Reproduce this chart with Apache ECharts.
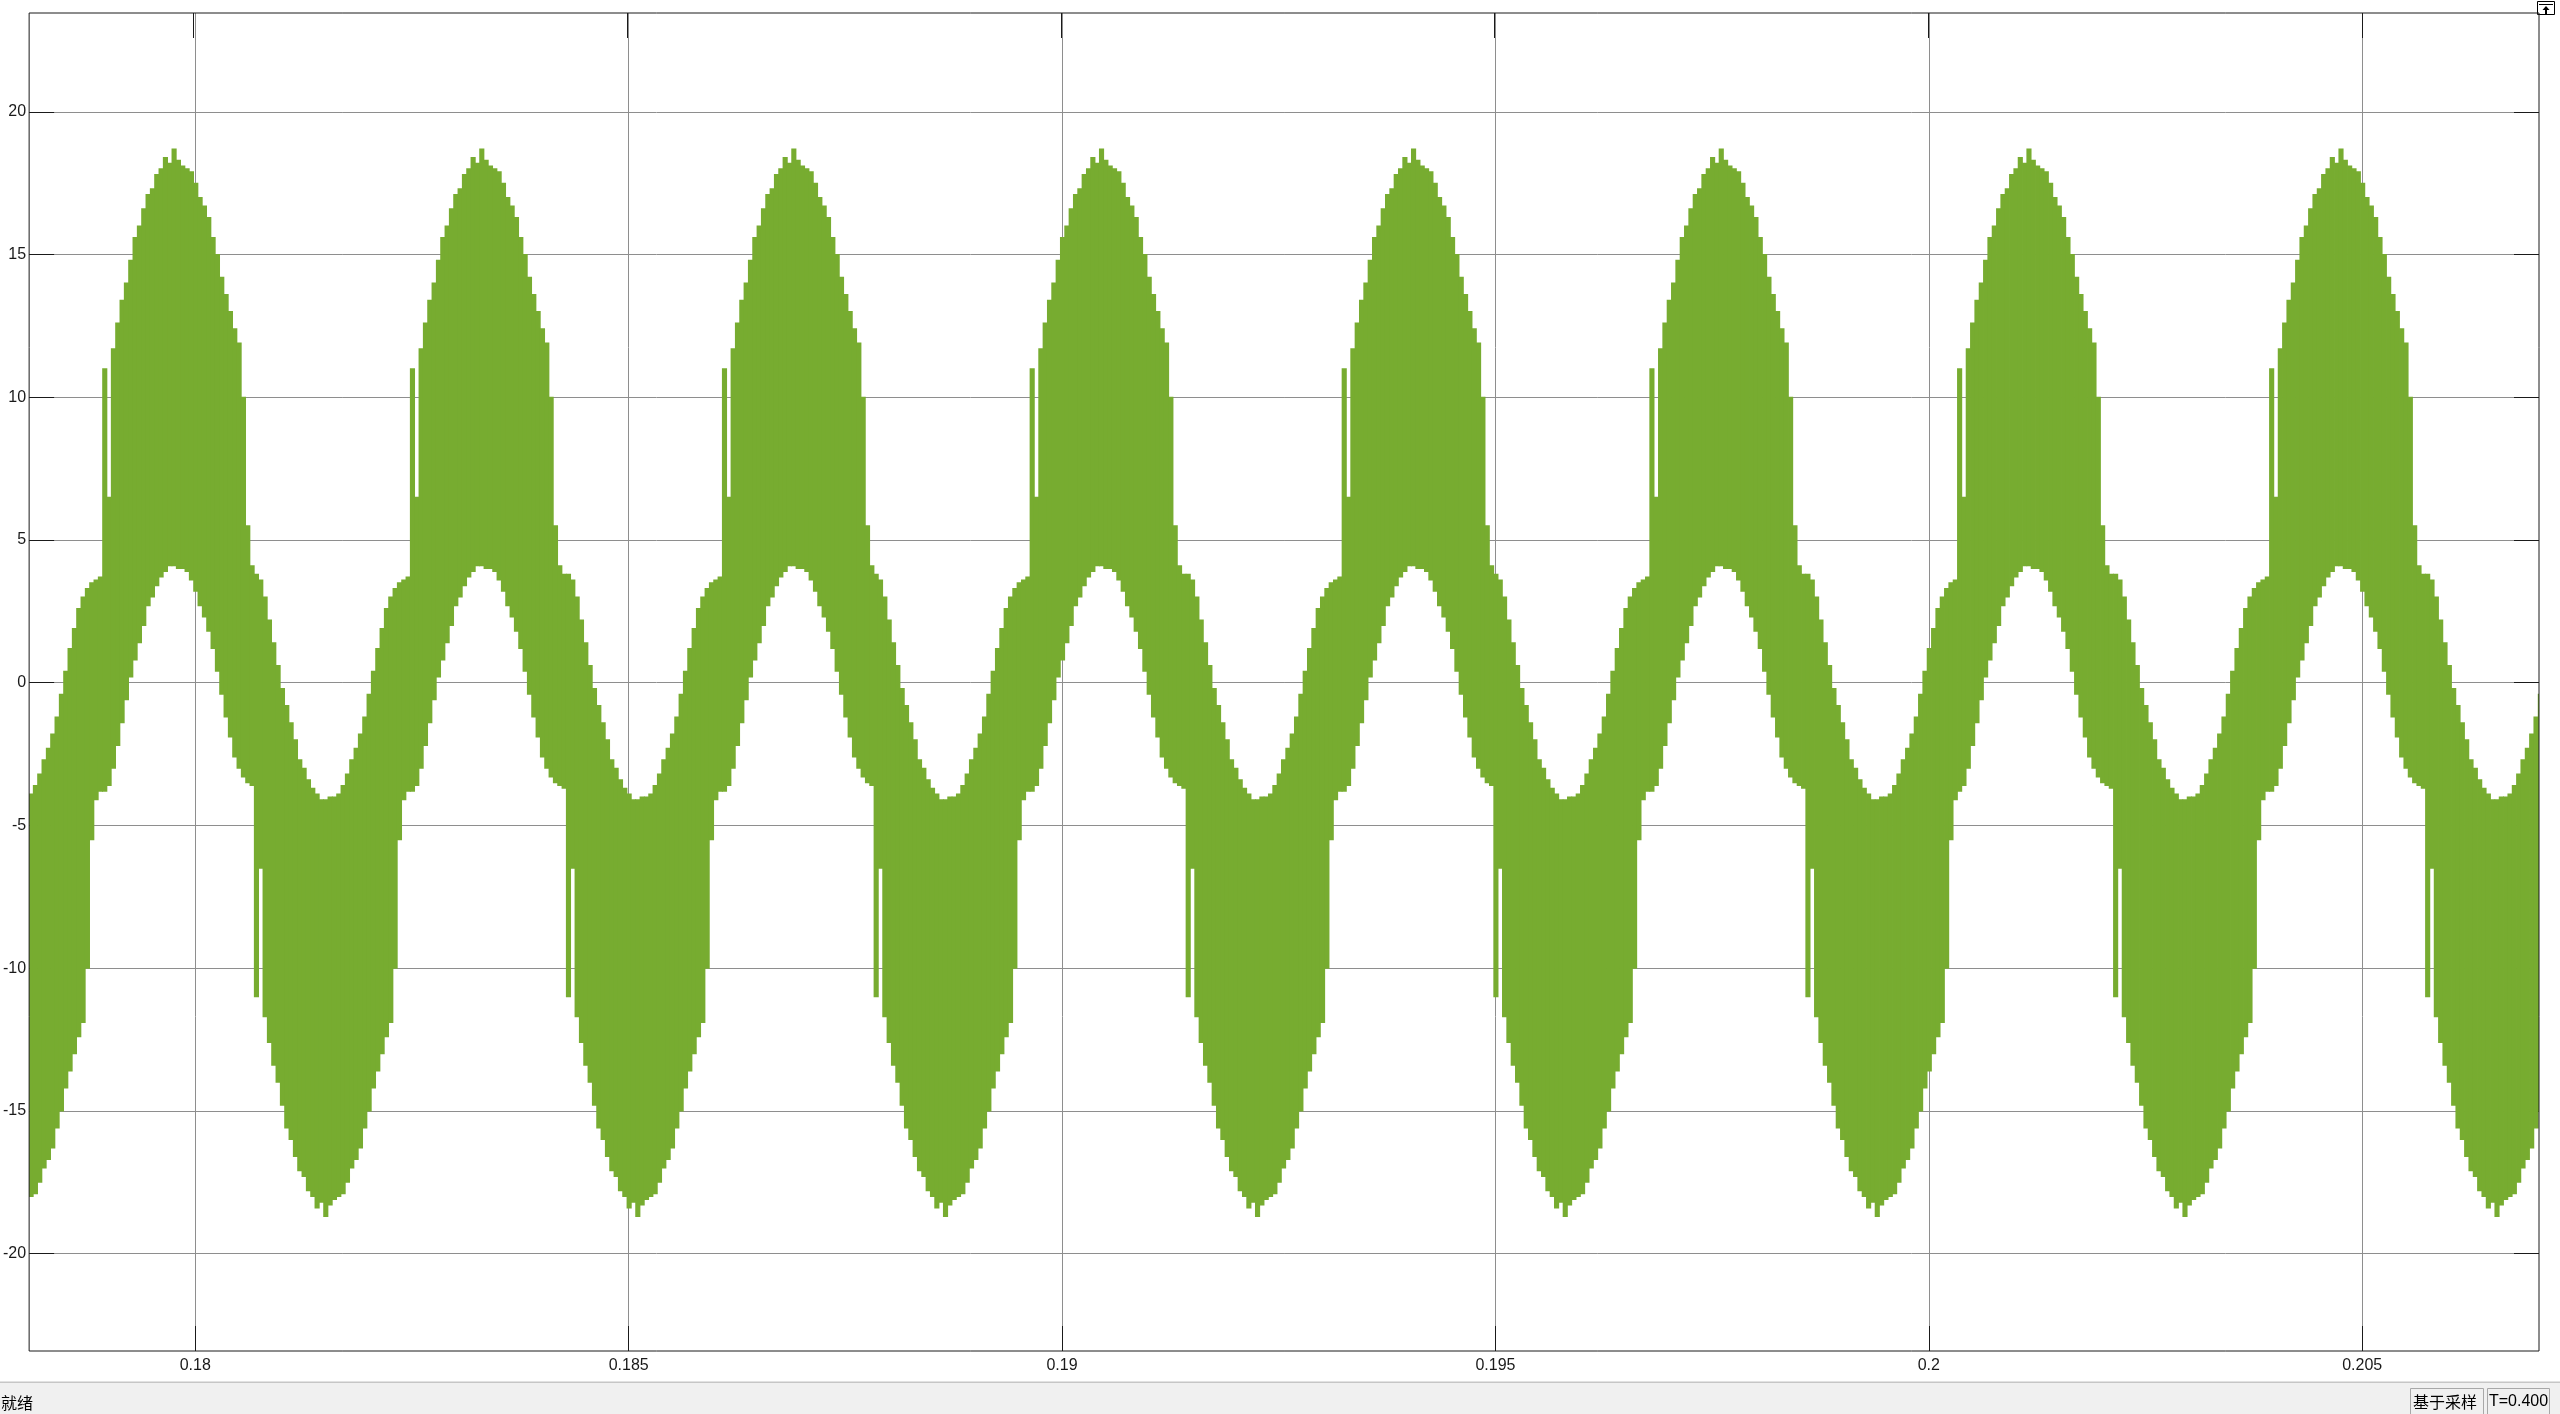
<!DOCTYPE html>
<html>
<head>
<meta charset="utf-8">
<script src="https://cdn.jsdelivr.net/npm/echarts@6/dist/echarts.min.js"></script>
<style>
  html, body { margin: 0; padding: 0; background: #ffffff; }
  #chart { width: 2560px; height: 1414px; }
</style>
</head>
<body>
<div id="chart"></div>
<script>
// ---- Axis data ----
const xTickValues = [0.18, 0.185, 0.19, 0.195, 0.2, 0.205];
const yTickValues = [-20, -15, -10, -5, 0, 5, 10, 15, 20];
const xRange = [0.178083, 0.20704];
const yRange = [-23.41, 23.46];

// ---- Sampling grid of the envelope readings (one value every 50 us) ----
const sampleStart = 0.178076;
const samplePeriod = 0.00005;

// ---- Upper envelope of the switching current, one value per sample ----
const upperEnvelope = [
  -3.9,-3.6,-3.2,-2.7,-2.3,-1.8,-1.2,-0.4,0.4,1.2,1.9,2.6,3.0,3.3,3.5,3.6,3.7,
  11.0,6.5,11.7,12.6,13.4,14.0,14.8,15.6,16.0,16.6,17.1,17.3,17.8,18.0,18.4,18.2,18.7,18.3,18.1,18.0,17.9,17.5,17.0,16.7,16.3,15.6,15.0,14.2,13.6,13.0,12.4,11.9,10.0,5.5,4.1,
  3.8,3.6,3.0,2.2,1.4,0.6,-0.2,-0.8,-1.4,-2.0,-2.7,-3.0,-3.4,-3.7,-3.9,-4.1,-4.1,-4.0,-4.0,-3.9,-3.6,-3.2,-2.7,-2.3,-1.8,-1.2,-0.4,0.4,1.2,1.9,2.6,3.0,3.3,3.5,3.6,3.7,
  11.0,6.5,11.7,12.6,13.4,14.0,14.8,15.6,16.0,16.6,17.1,17.3,17.8,18.0,18.4,18.2,18.7,18.3,18.1,18.0,17.9,17.5,17.0,16.7,16.3,15.6,15.0,14.2,13.6,13.0,12.4,11.9,10.0,5.5,4.1,3.8,
  3.8,3.6,3.0,2.2,1.4,0.6,-0.2,-0.8,-1.4,-2.0,-2.7,-3.0,-3.4,-3.7,-3.9,-4.1,-4.1,-4.0,-4.0,-3.9,-3.6,-3.2,-2.7,-2.3,-1.8,-1.2,-0.4,0.4,1.2,1.9,2.6,3.0,3.3,3.5,3.6,3.7,
  11.0,6.5,11.7,12.6,13.4,14.0,14.8,15.6,16.0,16.6,17.1,17.3,17.8,18.0,18.4,18.2,18.7,18.3,18.1,18.0,17.9,17.5,17.0,16.7,16.3,15.6,15.0,14.2,13.6,13.0,12.4,11.9,10.0,5.5,4.1,
  3.8,3.6,3.0,2.2,1.4,0.6,-0.2,-0.8,-1.4,-2.0,-2.7,-3.0,-3.4,-3.7,-3.9,-4.1,-4.1,-4.0,-4.0,-3.9,-3.6,-3.2,-2.7,-2.3,-1.8,-1.2,-0.4,0.4,1.2,1.9,2.6,3.0,3.3,3.5,3.6,3.7,
  11.0,6.5,11.7,12.6,13.4,14.0,14.8,15.6,16.0,16.6,17.1,17.3,17.8,18.0,18.4,18.2,18.7,18.3,18.1,18.0,17.9,17.5,17.0,16.7,16.3,15.6,15.0,14.2,13.6,13.0,12.4,11.9,10.0,5.5,4.1,3.8,
  3.8,3.6,3.0,2.2,1.4,0.6,-0.2,-0.8,-1.4,-2.0,-2.7,-3.0,-3.4,-3.7,-3.9,-4.1,-4.1,-4.0,-4.0,-3.9,-3.6,-3.2,-2.7,-2.3,-1.8,-1.2,-0.4,0.4,1.2,1.9,2.6,3.0,3.3,3.5,3.6,3.7,
  11.0,6.5,11.7,12.6,13.4,14.0,14.8,15.6,16.0,16.6,17.1,17.3,17.8,18.0,18.4,18.2,18.7,18.3,18.1,18.0,17.9,17.5,17.0,16.7,16.3,15.6,15.0,14.2,13.6,13.0,12.4,11.9,10.0,5.5,4.1,
  3.8,3.6,3.0,2.2,1.4,0.6,-0.2,-0.8,-1.4,-2.0,-2.7,-3.0,-3.4,-3.7,-3.9,-4.1,-4.1,-4.0,-4.0,-3.9,-3.6,-3.2,-2.7,-2.3,-1.8,-1.2,-0.4,0.4,1.2,1.9,2.6,3.0,3.3,3.5,3.6,3.7,
  11.0,6.5,11.7,12.6,13.4,14.0,14.8,15.6,16.0,16.6,17.1,17.3,17.8,18.0,18.4,18.2,18.7,18.3,18.1,18.0,17.9,17.5,17.0,16.7,16.3,15.6,15.0,14.2,13.6,13.0,12.4,11.9,10.0,5.5,4.1,3.8,
  3.8,3.6,3.0,2.2,1.4,0.6,-0.2,-0.8,-1.4,-2.0,-2.7,-3.0,-3.4,-3.7,-3.9,-4.1,-4.1,-4.0,-4.0,-3.9,-3.6,-3.2,-2.7,-2.3,-1.8,-1.2,-0.4,0.4,1.2,1.9,2.6,3.0,3.3,3.5,3.6,
  11.0,6.5,11.7,12.6,13.4,14.0,14.8,15.6,16.0,16.6,17.1,17.3,17.8,18.0,18.4,18.2,18.7,18.3,18.1,18.0,17.9,17.5,17.0,16.7,16.3,15.6,15.0,14.2,13.6,13.0,12.4,11.9,10.0,5.5,4.1,3.8,
  3.8,3.6,3.0,2.2,1.4,0.6,-0.2,-0.8,-1.4,-2.0,-2.7,-3.0,-3.4,-3.7,-3.9,-4.1,-4.1,-4.0,-4.0,-3.9,-3.6,-3.2,-2.7,-2.3,-1.8,-1.2,-0.4,0.4,1.2,1.9,2.6,3.0,3.3,3.5,3.6,3.7,
  11.0,6.5,11.7,12.6,13.4,14.0,14.8,15.6,16.0,16.6,17.1,17.3,17.8,18.0,18.4,18.2,18.7,18.3,18.1,18.0,17.9,17.5,17.0,16.7,16.3,15.6,15.0,14.2,13.6,13.0,12.4,11.9,10.0,5.5,4.1,3.8,
  3.8,3.6,3.0,2.2,1.4,0.6,-0.2,-0.8,-1.4,-2.0,-2.7,-3.0,-3.4,-3.7,-3.9,-4.1,-4.1,-4.0,-4.0,-3.9,-3.6,-3.2,-2.7,-2.3,-1.8,-1.2,-0.4
];

// ---- Lower envelope of the switching current, one value per sample ----
const lowerEnvelope = [
  -18.0,-17.9,-17.5,-17.0,-16.7,-16.3,-15.6,-15.0,-14.2,-13.6,-13.0,-12.4,-11.9,-10.0,-5.5,-4.1,-3.8,
  -3.8,-3.6,-3.0,-2.2,-1.4,-0.6,0.2,0.8,1.4,2.0,2.7,3.0,3.4,3.7,3.9,4.1,4.1,4.0,4.0,3.9,3.6,3.2,2.7,2.3,1.8,1.2,0.4,-0.4,-1.2,-1.9,-2.6,-3.0,-3.3,-3.5,-3.6,
  -11.0,-6.5,-11.7,-12.6,-13.4,-14.0,-14.8,-15.6,-16.0,-16.6,-17.1,-17.3,-17.8,-18.0,-18.4,-18.2,-18.7,-18.3,-18.1,-18.0,-17.9,-17.5,-17.0,-16.7,-16.3,-15.6,-15.0,-14.2,-13.6,-13.0,-12.4,-11.9,-10.0,-5.5,-4.1,-3.8,
  -3.8,-3.6,-3.0,-2.2,-1.4,-0.6,0.2,0.8,1.4,2.0,2.7,3.0,3.4,3.7,3.9,4.1,4.1,4.0,4.0,3.9,3.6,3.2,2.7,2.3,1.8,1.2,0.4,-0.4,-1.2,-1.9,-2.6,-3.0,-3.3,-3.5,-3.6,-3.7,
  -11.0,-6.5,-11.7,-12.6,-13.4,-14.0,-14.8,-15.6,-16.0,-16.6,-17.1,-17.3,-17.8,-18.0,-18.4,-18.2,-18.7,-18.3,-18.1,-18.0,-17.9,-17.5,-17.0,-16.7,-16.3,-15.6,-15.0,-14.2,-13.6,-13.0,-12.4,-11.9,-10.0,-5.5,-4.1,-3.8,
  -3.8,-3.6,-3.0,-2.2,-1.4,-0.6,0.2,0.8,1.4,2.0,2.7,3.0,3.4,3.7,3.9,4.1,4.1,4.0,4.0,3.9,3.6,3.2,2.7,2.3,1.8,1.2,0.4,-0.4,-1.2,-1.9,-2.6,-3.0,-3.3,-3.5,-3.6,
  -11.0,-6.5,-11.7,-12.6,-13.4,-14.0,-14.8,-15.6,-16.0,-16.6,-17.1,-17.3,-17.8,-18.0,-18.4,-18.2,-18.7,-18.3,-18.1,-18.0,-17.9,-17.5,-17.0,-16.7,-16.3,-15.6,-15.0,-14.2,-13.6,-13.0,-12.4,-11.9,-10.0,-5.5,-4.1,-3.8,
  -3.8,-3.6,-3.0,-2.2,-1.4,-0.6,0.2,0.8,1.4,2.0,2.7,3.0,3.4,3.7,3.9,4.1,4.1,4.0,4.0,3.9,3.6,3.2,2.7,2.3,1.8,1.2,0.4,-0.4,-1.2,-1.9,-2.6,-3.0,-3.3,-3.5,-3.6,-3.7,
  -11.0,-6.5,-11.7,-12.6,-13.4,-14.0,-14.8,-15.6,-16.0,-16.6,-17.1,-17.3,-17.8,-18.0,-18.4,-18.2,-18.7,-18.3,-18.1,-18.0,-17.9,-17.5,-17.0,-16.7,-16.3,-15.6,-15.0,-14.2,-13.6,-13.0,-12.4,-11.9,-10.0,-5.5,-4.1,-3.8,
  -3.8,-3.6,-3.0,-2.2,-1.4,-0.6,0.2,0.8,1.4,2.0,2.7,3.0,3.4,3.7,3.9,4.1,4.1,4.0,4.0,3.9,3.6,3.2,2.7,2.3,1.8,1.2,0.4,-0.4,-1.2,-1.9,-2.6,-3.0,-3.3,-3.5,-3.6,
  -11.0,-6.5,-11.7,-12.6,-13.4,-14.0,-14.8,-15.6,-16.0,-16.6,-17.1,-17.3,-17.8,-18.0,-18.4,-18.2,-18.7,-18.3,-18.1,-18.0,-17.9,-17.5,-17.0,-16.7,-16.3,-15.6,-15.0,-14.2,-13.6,-13.0,-12.4,-11.9,-10.0,-5.5,-4.1,-3.8,
  -3.8,-3.6,-3.0,-2.2,-1.4,-0.6,0.2,0.8,1.4,2.0,2.7,3.0,3.4,3.7,3.9,4.1,4.1,4.0,4.0,3.9,3.6,3.2,2.7,2.3,1.8,1.2,0.4,-0.4,-1.2,-1.9,-2.6,-3.0,-3.3,-3.5,-3.6,-3.7,
  -11.0,-6.5,-11.7,-12.6,-13.4,-14.0,-14.8,-15.6,-16.0,-16.6,-17.1,-17.3,-17.8,-18.0,-18.4,-18.2,-18.7,-18.3,-18.1,-18.0,-17.9,-17.5,-17.0,-16.7,-16.3,-15.6,-15.0,-14.2,-13.6,-13.0,-12.4,-11.9,-10.0,-5.5,-4.1,
  -3.8,-3.6,-3.0,-2.2,-1.4,-0.6,0.2,0.8,1.4,2.0,2.7,3.0,3.4,3.7,3.9,4.1,4.1,4.0,4.0,3.9,3.6,3.2,2.7,2.3,1.8,1.2,0.4,-0.4,-1.2,-1.9,-2.6,-3.0,-3.3,-3.5,-3.6,-3.7,
  -11.0,-6.5,-11.7,-12.6,-13.4,-14.0,-14.8,-15.6,-16.0,-16.6,-17.1,-17.3,-17.8,-18.0,-18.4,-18.2,-18.7,-18.3,-18.1,-18.0,-17.9,-17.5,-17.0,-16.7,-16.3,-15.6,-15.0,-14.2,-13.6,-13.0,-12.4,-11.9,-10.0,-5.5,-4.1,-3.8,
  -3.8,-3.6,-3.0,-2.2,-1.4,-0.6,0.2,0.8,1.4,2.0,2.7,3.0,3.4,3.7,3.9,4.1,4.1,4.0,4.0,3.9,3.6,3.2,2.7,2.3,1.8,1.2,0.4,-0.4,-1.2,-1.9,-2.6,-3.0,-3.3,-3.5,-3.6,-3.7,
  -11.0,-6.5,-11.7,-12.6,-13.4,-14.0,-14.8,-15.6,-16.0,-16.6,-17.1,-17.3,-17.8,-18.0,-18.4,-18.2,-18.7,-18.3,-18.1,-18.0,-17.9,-17.5,-17.0,-16.7,-16.3,-15.6,-15.0
];

// ---- Status bar texts ----
const statusReady = '就绪';
const statusMode = '基于采样';
const statusTime = 'T=0.400';

// ---- Build the series data the library needs: [time, lower, upper] per sample ----
const n = Math.min(upperEnvelope.length, lowerEnvelope.length);
const rangeData = [];
for (let i = 0; i < n; i++) {
  rangeData.push([+(sampleStart + i * samplePeriod).toFixed(6), lowerEnvelope[i], upperEnvelope[i]]);
}

const GREEN = '#77AC30';
const INK = '#1a1a1a';
const GRIDC = '#8e8e8e';
const LABEL_FONT = '"Liberation Sans", Arial, Helvetica, sans-serif';

const chart = echarts.init(document.getElementById('chart'), null, { renderer: 'canvas' });

const tickCommon = (vals) => ({ show: true, inside: true, length: 25, lineStyle: { color: INK, width: 1 }, customValues: vals });
const noLine = { show: false, onZero: false };

function renderRange(params, api) {
  const t = api.value(0);
  const lo = api.value(1);
  const hi = api.value(2);
  const pTop = api.coord([t, hi]);
  const pBot = api.coord([t + samplePeriod, lo]);
  const cs = params.coordSys;
  let x0 = pTop[0];
  let x1 = pBot[0] + 0.8;            // slight overlap so neighbouring samples join without seams
  x0 = Math.max(x0, cs.x);
  x1 = Math.min(x1, cs.x + cs.width);
  if (x1 <= x0) return null;
  return {
    type: 'rect',
    shape: { x: x0, y: pTop[1] - 0.5, width: x1 - x0, height: (pBot[1] - pTop[1]) + 1 },
    style: { fill: GREEN },
    silent: true
  };
}

chart.setOption({
  animation: false,
  backgroundColor: '#ffffff',
  grid: [
    { left: 27, top: 13, right: 21, bottom: 63, show: true, z: 5, borderColor: INK, borderWidth: 1, backgroundColor: 'transparent', containLabel: false },
    { left: 27, top: 13, right: 21, bottom: 63, show: false, containLabel: false }
  ],
  xAxis: [
    { type: 'value', gridIndex: 0, position: 'bottom', min: xRange[0], max: xRange[1], splitNumber: 6, z: 1,
      axisLine: noLine, axisTick: tickCommon(xTickValues),
      axisLabel: { show: true, margin: 7, color: INK, fontSize: 16, fontFamily: LABEL_FONT, customValues: xTickValues,
        formatter: (v) => String(v) },
      splitLine: { show: false } },
    { type: 'value', gridIndex: 0, position: 'top', min: xRange[0], max: xRange[1], splitNumber: 6, z: 0,
      axisLine: noLine, axisTick: { show: false, customValues: xTickValues },
      axisLabel: { show: false, customValues: xTickValues },
      splitLine: { show: true, lineStyle: { color: GRIDC, width: 1 } } },
    { type: 'value', gridIndex: 1, position: 'top', min: xRange[0], max: xRange[1], splitNumber: 6, z: 1,
      axisLine: noLine, axisTick: tickCommon(xTickValues),
      axisLabel: { show: false, customValues: xTickValues }, splitLine: { show: false } }
  ],
  yAxis: [
    { type: 'value', gridIndex: 0, position: 'left', min: yRange[0], max: yRange[1], splitNumber: 9, z: 1,
      axisLine: noLine, axisTick: tickCommon(yTickValues),
      axisLabel: { show: true, margin: 3, color: INK, fontSize: 16, fontFamily: LABEL_FONT, customValues: yTickValues,
        formatter: (v) => String(v) },
      splitLine: { show: false } },
    { type: 'value', gridIndex: 0, position: 'right', min: yRange[0], max: yRange[1], splitNumber: 9, z: 0,
      axisLine: noLine, axisTick: { show: false, customValues: yTickValues },
      axisLabel: { show: false, customValues: yTickValues },
      splitLine: { show: true, lineStyle: { color: GRIDC, width: 1 } } },
    { type: 'value', gridIndex: 1, position: 'right', min: yRange[0], max: yRange[1], splitNumber: 9, z: 1,
      axisLine: noLine, axisTick: tickCommon(yTickValues),
      axisLabel: { show: false, customValues: yTickValues }, splitLine: { show: false } }
  ],
  series: [
    { type: 'custom', name: 'current', xAxisIndex: 0, yAxisIndex: 0, data: rangeData,
      encode: { x: 0, y: [1, 2] }, renderItem: renderRange, clip: true,
      silent: true, z: 2, animation: false }
  ],
  graphic: [
    { type: 'rect', silent: true, shape: { x: 0, y: 1383, width: 2560, height: 31 }, style: { fill: '#f0f0f0' } },
    { type: 'rect', silent: true, shape: { x: 0, y: 1381.5, width: 2560, height: 1.5 }, style: { fill: '#c6c6c6' } },
    { type: 'text', silent: true, x: 1, y: 1403,
      style: { text: statusReady, fill: '#000000', font: '16px "Noto Sans CJK SC"', verticalAlign: 'middle', align: 'left' } },
    { type: 'rect', silent: true, shape: { x: 2410.5, y: 1388.5, width: 73, height: 26 }, style: { fill: 'none', stroke: '#a8a8a8', lineWidth: 1 } },
    { type: 'text', silent: true, x: 2413, y: 1402,
      style: { text: statusMode, fill: '#000000', font: '16px "Noto Sans CJK SC"', verticalAlign: 'middle', align: 'left' } },
    { type: 'rect', silent: true, shape: { x: 2487.5, y: 1388.5, width: 62, height: 26 }, style: { fill: 'none', stroke: '#a8a8a8', lineWidth: 1 } },
    { type: 'text', silent: true, x: 2489, y: 1402,
      style: { text: statusTime, fill: '#000000', font: '16px "Liberation Sans", Arial, sans-serif', verticalAlign: 'middle', align: 'left' } },
    { type: 'rect', silent: true, shape: { x: 2537.5, y: 1.5, width: 17, height: 13 }, style: { fill: '#ffffff', stroke: '#000000', lineWidth: 1 } },
    { type: 'line', silent: true, shape: { x1: 2539, y1: 4.5, x2: 2553, y2: 4.5 }, style: { stroke: '#000000', lineWidth: 1 } },
    { type: 'polygon', silent: true, shape: { points: [[2546, 6], [2542.5, 10], [2549.5, 10]] }, style: { fill: '#000000' } },
    { type: 'rect', silent: true, shape: { x: 2545, y: 10, width: 2, height: 4 }, style: { fill: '#000000' } }
  ]
});
</script>
</body>
</html>
